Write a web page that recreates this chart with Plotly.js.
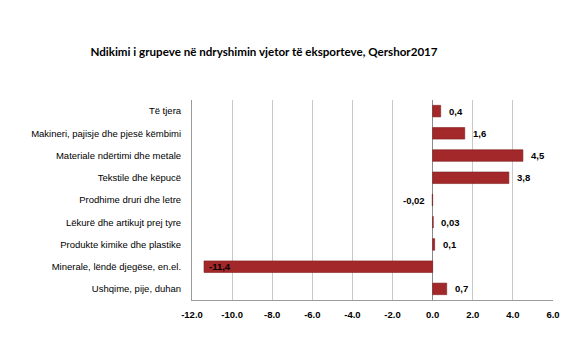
<!DOCTYPE html>
<html>
<head>
<meta charset="utf-8">
<script src="https://cdn.plot.ly/plotly-3.0.1.min.js"></script>
<style>html,body{margin:0;padding:0;background:#fff;}#chart{width:588px;height:353px;}</style>
</head>
<body>
<div id="chart"></div>
<script>
const categories = [
  "Të tjera",
  "Makineri, pajisje dhe pjesë këmbimi",
  "Materiale ndërtimi dhe metale",
  "Tekstile dhe këpucë",
  "Prodhime druri dhe letre",
  "Lëkurë dhe artikujt prej tyre",
  "Produkte kimike dhe plastike",
  "Minerale, lëndë djegëse, en.el.",
  "Ushqime, pije, duhan"
];
const values = [0.4, 1.6, 4.5, 3.8, -0.02, 0.03, 0.1, -11.4, 0.7];
const valueLabels = ["0,4", "1,6", "4,5", "3,8", "-0,02", "0,03", "0,1", "-11,4", "0,7"];
const tickValues = [-12, -10, -8, -6, -4, -2, 0, 2, 4, 6];
const tickLabels = ["-12.0", "-10.0", "-8.0", "-6.0", "-4.0", "-2.0", "0.0", "2.0", "4.0", "6.0"];

const annotations = values.map((v, i) => {
  const inside = v < -5;
  return {
    x: v < 0 && !inside ? 0 : v,
    y: categories[i],
    xref: 'x', yref: 'y',
    text: valueLabels[i],
    showarrow: false,
    xanchor: inside ? 'left' : (v < 0 ? 'right' : 'left'),
    xshift: inside ? 3 : (v < 0 ? -6 : 6),
    font: {family: 'Arial, Liberation Sans, sans-serif', size: 9.5, color: '#000', weight: 'bold'}
  };
});

const trace = {
  type: 'bar',
  orientation: 'h',
  y: categories,
  x: values,
  width: 0.52,
  marker: {color: '#A3282A', line: {color: '#7d1c1e', width: 0.6}},
  hoverinfo: 'none'
};

const layout = {
  width: 588, height: 353,
  margin: {l: 192, r: 35, t: 100, b: 53},
  paper_bgcolor: '#fff', plot_bgcolor: '#fff',
  showlegend: false,
  title: {
    text: 'Ndikimi i grupeve në ndryshimin vjetor të eksporteve, Qershor2017',
    xref: 'container', yref: 'container',
    x: 264/588, xanchor: 'center',
    y: 1 - 52/353, yanchor: 'middle',
    font: {family: 'Lato, Liberation Sans, sans-serif', size: 11.6, color: '#000', weight: 'bold'}
  },
  xaxis: {
    range: [-12, 6],
    tickmode: 'array',
    tickvals: tickValues,
    ticktext: tickLabels,
    showgrid: true, gridcolor: '#c8c8c8', gridwidth: 1,
    zeroline: true, zerolinecolor: '#8a8a8a', zerolinewidth: 1,
    showline: true, linecolor: '#9a9a9a', linewidth: 1,
    ticks: '', ticklabelstandoff: 6,
    tickfont: {family: 'Arial, Liberation Sans, sans-serif', size: 9.5, color: '#000', weight: 'bold'},
    fixedrange: true
  },
  yaxis: {
    autorange: 'reversed',
    showgrid: false,
    showline: true, linecolor: '#9a9a9a', linewidth: 1,
    ticks: '', ticklabelstandoff: 8,
    tickfont: {family: 'Arial, Liberation Sans, sans-serif', size: 9.5, color: '#000'},
    fixedrange: true
  },
  annotations: annotations
};

Plotly.newPlot('chart', [trace], layout, {displayModeBar: false, staticPlot: true});
</script>
</body>
</html>
